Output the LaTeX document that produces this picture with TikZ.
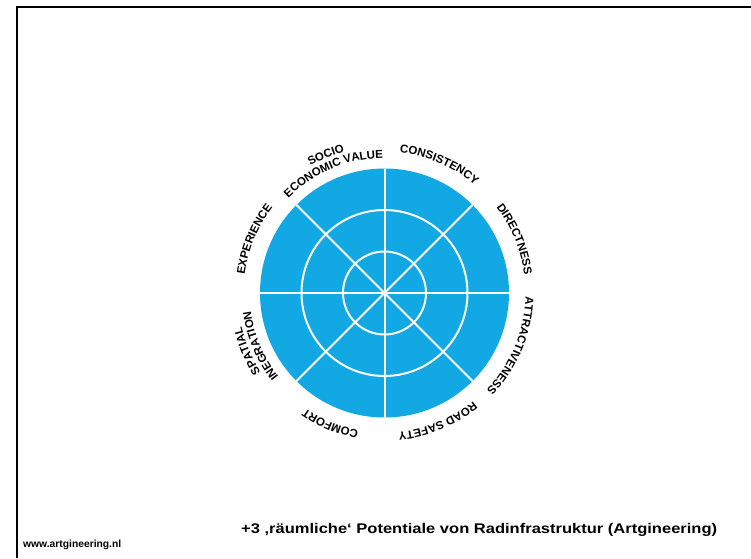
\documentclass[tikz,border=0pt]{standalone}
\usepackage{fontspec}
\setmainfont{Liberation Sans}
\usetikzlibrary{decorations.text,calc}
\definecolor{wheelblue}{RGB}{18,168,228}
\newcommand\lblfont{\bfseries\fontsize{11.5}{12}\selectfont}
% angle, baseline radius, text
\newcommand\arclabel[3]{%
  \path[decorate,decoration={text along path,text align=center,text={|\lblfont|#3}}]
    ($(c)+({#1+40}:#2pt)$) arc[start angle={#1+40},end angle={#1-40},radius=#2pt];}
\tikzset{
  frameline/.style={line width=2.5pt,line cap=butt,line join=miter,black},
  gridline/.style={white,line width=2pt},
  captionfont/.style={anchor=base west,inner sep=0pt,font=\bfseries\fontsize{14}{16}\selectfont},
  urlfont/.style={anchor=base west,inner sep=0pt,font=\bfseries\fontsize{10.3}{12}\selectfont}
}
\begin{document}
\begin{tikzpicture}[x=1pt,y=1pt]
\useasboundingbox (0,0) rectangle (751,558);
\fill[white] (0,0) rectangle (751,558);
\coordinate (fbl) at (17,0);
\coordinate (ftl) at (17,551);
\coordinate (ftr) at (751,551);
\draw[frameline] (fbl) -- (ftl) -- (ftr);
\coordinate (c) at (384.5,265);
\fill[wheelblue] (c) circle[radius=124.5pt];
\foreach \r in {41.5,83} \draw[gridline] (c) circle[radius=\r pt];
\foreach \a in {0,45,...,315} \draw[gridline] (c) -- ++(\a:124.5pt);
\arclabel{67}{141}{CONSISTENCY}
\arclabel{22.5}{141}{DIRECTNESS}
\arclabel{-22.5}{141}{ATTRACTIVENESS}
\arclabel{-67.5}{140}{ROAD SAFETY}
\arclabel{-112.5}{140}{COMFORT}
\arclabel{157.5}{141}{EXPERIENCE}
\arclabel{113}{147}{SOCIO}
\arclabel{113}{135}{ECONOMIC VALUE}
\arclabel{-157}{147}{SPATIAL}
\arclabel{-157}{135}{INEGRATION}
\node[captionfont] (caption) at (241,25) {\scalebox{1.18}[1]{+3 ‚räumliche‘ Potentiale von Radinfrastruktur (Artgineering)}};
\node[urlfont] (url) at (23,11) {www.artgineering.nl};
\end{tikzpicture}
\end{document}
